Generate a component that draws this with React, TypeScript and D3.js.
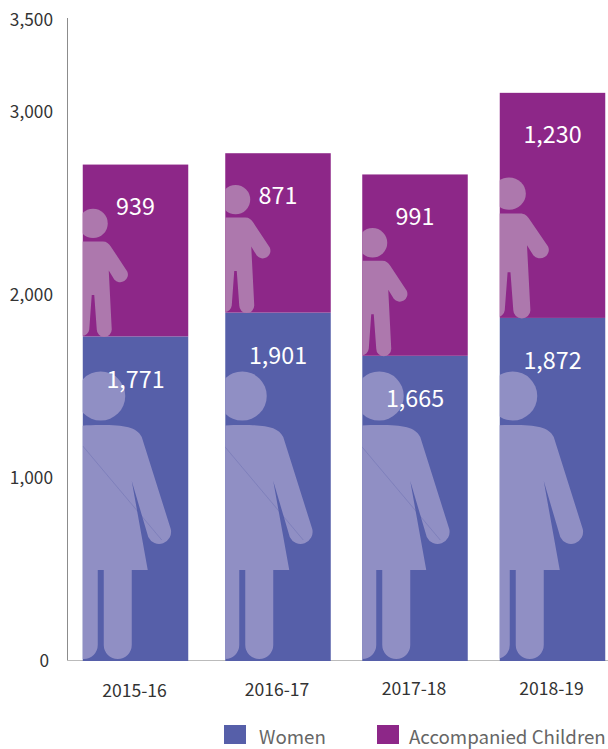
import React from "react";
import * as d3 from "d3";

const categories = ["2015-16", "2016-17", "2017-18", "2018-19"];
const women = [1771, 1901, 1665, 1872];
const children = [939, 871, 991, 1230];
const yTicks = [0, 1000, 2000, 3000, 3500];
const seriesNames = ["Women", "Accompanied Children"];

const W = 608, H = 749;
const FONT = "'Noto Sans CJK JP', 'Noto Sans', sans-serif";
const C_WOMEN = "#565FA9", C_CHILD = "#8D2788";
const C_WOMAN_ICON = "#908FC4", C_CHILD_ICON = "#AD78AD";
const BAR_W = 105.5;
const y = d3.scaleLinear().domain([0, 3500]).range([660.5, 20]);
const xCenter = d3.scaleOrdinal<string, number>().domain(categories).range([135.5, 278, 415, 552.5]);
const labelY = [691, 690, 689, 689];
const childSX = [1, 1, 1, 1.14];
const childSY = [1, 1, 1, 1.1];
const childDx = [0, 0, 0, -2.4];
const womanDx = [0, -1, -1, -5];
const diagonal = [true, true, true, false];

// Woman icon: origin at bar left / ground
const womanPath =
  "M18,-234 C42,-234 54,-232 59,-222 L88,-130 A12,12 0 0 1 65.5,-122 L49,-178 L65,-89 L49,-89 L49,-14 A14,14 0 0 1 21,-14 L21,-89 L15,-89 L15,-14 A14,14 0 0 1 -13,-14 L-13,-89 L-33,-89 L-17,-178 L-33,-124 A12,12 0 0 1 -55,-131 L-26,-222 C-22,-232 -6,-234 18,-234 Z";
// Child icon: origin at bar left / ground of figure
const childPath =
  "M10,-95 L20,-95 C24,-95 26,-93 28,-90 L44.5,-65 A7.7,7.7 0 0 1 31.5,-57 L26,-66 L29,-7 A7.3,7.3 0 0 1 14,-7 L11.5,-41.5 L9,-41.5 L6.5,-7 A7.3,7.3 0 0 1 -8,-7 L-5,-66 L-10,-57 A7.7,7.7 0 0 1 -23,-65 L-8,-90 C-6,-93 -4,-95 0,-95 Z";

export default function App() {
  const stacked = d3.stack<number>().keys(["w", "c"]).value((i, k) => (k === "w" ? women[i] : children[i]))(categories.map((_, i) => i));
  const [sw, sc] = stacked;
  return (
    <svg width={W} height={H} viewBox={`0 0 ${W} ${H}`} style={{ position: "absolute", left: 0, top: 0 }} fontFamily={FONT}>
      <defs>
        {categories.map((c, i) => (
          <clipPath id={`clip${i}`} key={c}>
            <rect x={xCenter(c)! - BAR_W / 2} y={0} width={BAR_W} height={662} />
          </clipPath>
        ))}
      </defs>
      <line x1={67} x2={W} y1={660.5} y2={660.5} stroke="#bbb" strokeWidth={1} />
      {categories.map((c, i) => {
        const left = xCenter(c)! - BAR_W / 2;
        const wTop = y(sw[i][1]);
        const cTop = y(sc[i][1]);
        return (
          <g key={c}>
            <rect x={left} y={wTop} width={BAR_W} height={661 - wTop} fill={C_WOMEN} />
            <rect x={left} y={cTop} width={BAR_W} height={wTop - cTop} fill={C_CHILD} />
            <g clipPath={`url(#clip${i})`}>
              <g transform={`translate(${left + womanDx[i]},659)`} fill={C_WOMAN_ICON}>
                <circle cx={18} cy={-263} r={24.5} />
                <path d={womanPath} />
                {diagonal[i] && <line x1={0} y1={-213} x2={79} y2={-119} stroke={C_WOMEN} strokeOpacity={0.5} strokeWidth={0.6} />}
              </g>
              <g transform={`translate(${left + childDx[i]},${wTop}) scale(${childSX[i]},${childSY[i]})`} fill={C_CHILD_ICON}>
                <circle cx={10.3} cy={-113} r={14.7} />
                <path d={childPath} />
              </g>
            </g>
            <text x={xCenter(c)} y={wTop + 43} dy="0.36em" textAnchor="middle" fontSize={23.3} fill="#fff">{d3.format(",")(women[i])}</text>
            <text x={xCenter(c)} y={cTop + 42} dy="0.36em" textAnchor="middle" fontSize={23.3} fill="#fff">{d3.format(",")(children[i])}</text>
            <text x={xCenter(c)! - 1} y={labelY[i]} dy="0.36em" textAnchor="middle" fontSize={17.6} fill="#333">{c}</text>
          </g>
        );
      })}
      <line x1={67.5} x2={67.5} y1={18} y2={660} stroke="#8c8c8c" strokeWidth={1} />
      {yTicks.map((t) => (
        <text key={t} x={t === 0 ? 49 : 53} y={y(t)} dy="0.36em" textAnchor="end" fontSize={17.3} fill="#333">{d3.format(",")(t)}</text>
      ))}
      <rect x={224} y={725} width={22} height={19} fill={C_WOMEN} />
      <text x={259} y={744} fontSize={18.7} fill="#666">{seriesNames[0]}</text>
      <rect x={377} y={725} width={22} height={19} fill={C_CHILD} />
      <text x={409} y={744} fontSize={18.7} fill="#666">{seriesNames[1]}</text>
    </svg>
  );
}
